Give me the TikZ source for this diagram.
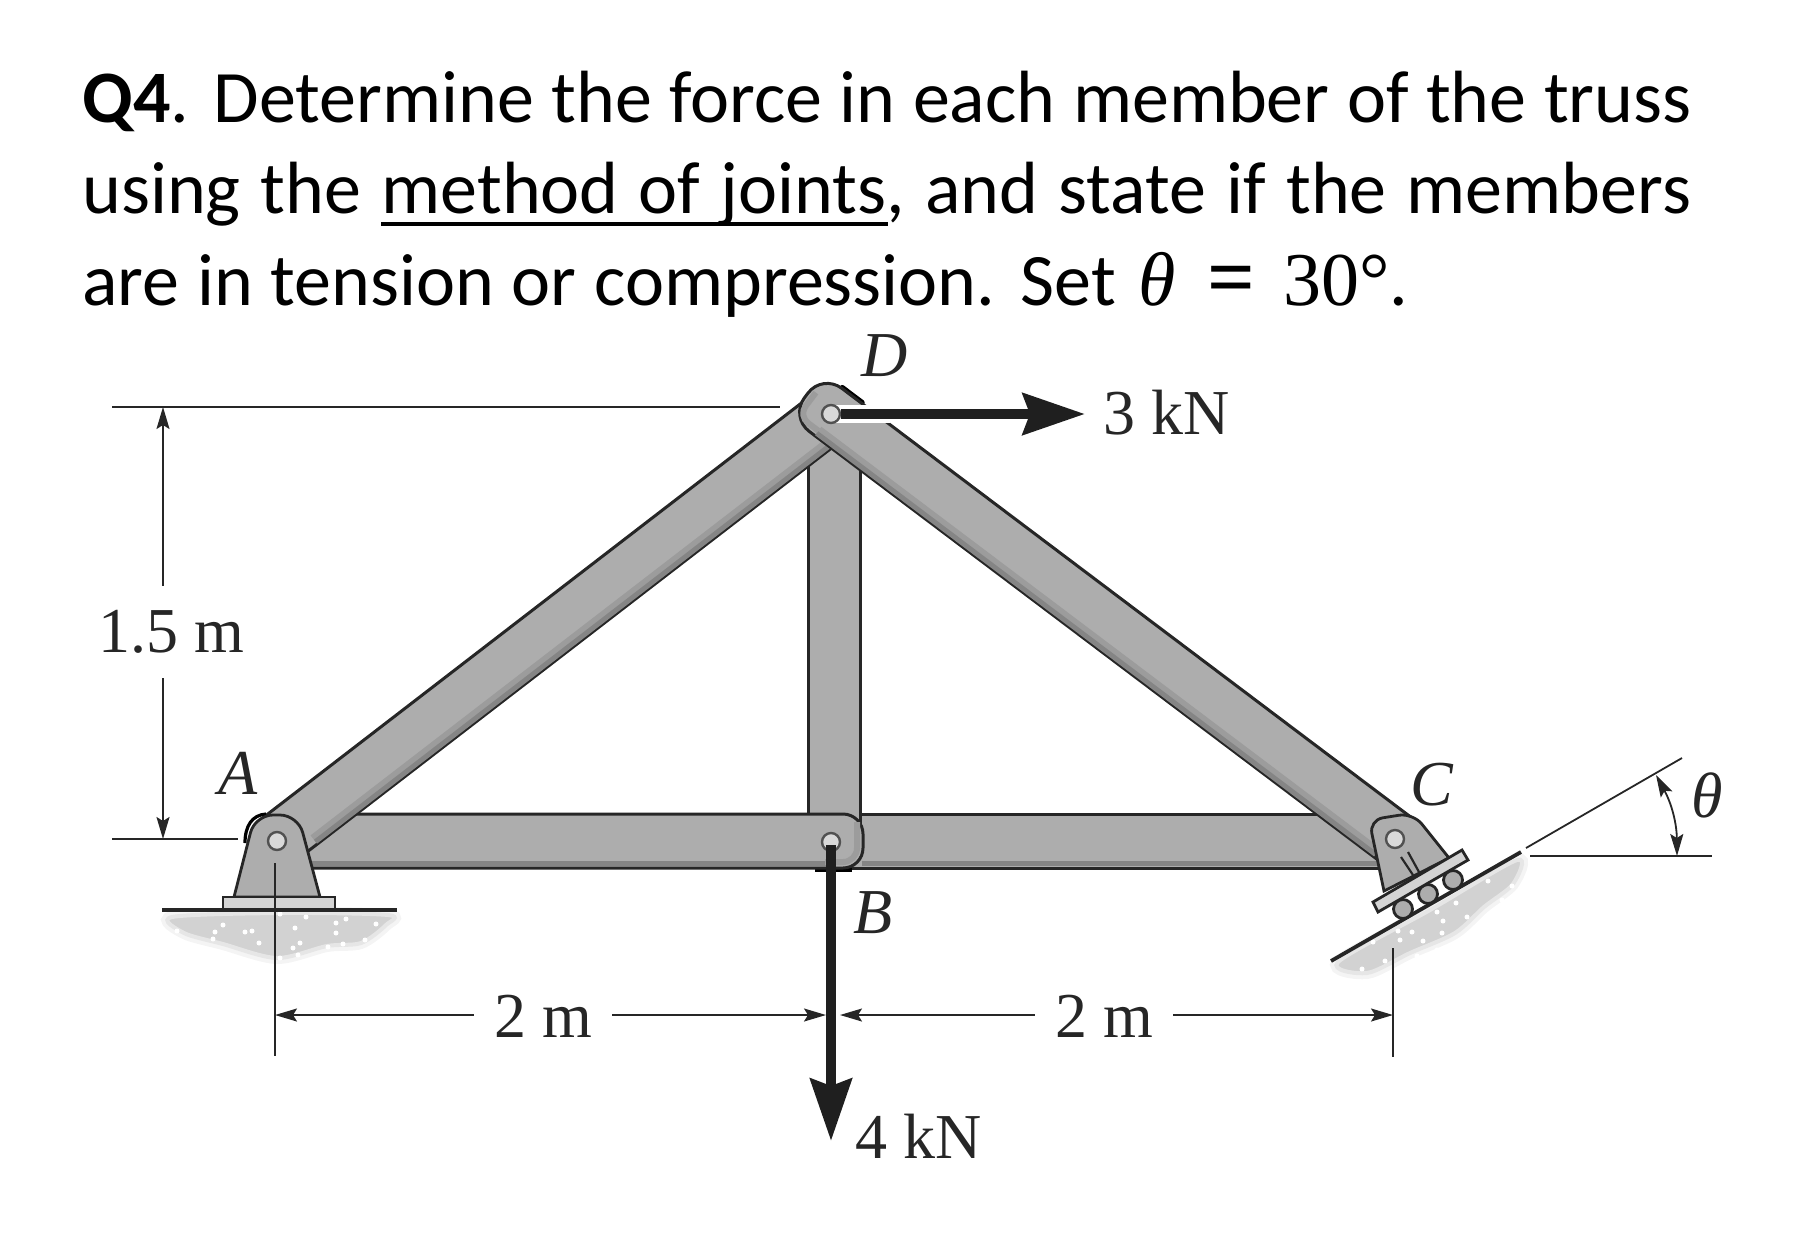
\documentclass[tikz,border=0pt]{standalone}
\usepackage{fontspec}
\setmainfont{Carlito}
\newfontfamily\lblfont{Liberation Serif}
\usepackage{tikz}
\usetikzlibrary{arrows.meta}
\definecolor{memgray}{HTML}{ADADAD}
\definecolor{memdark}{HTML}{858585}
\definecolor{memmid}{HTML}{9C9C9C}
\definecolor{soilgray}{HTML}{D2D2D2}
\definecolor{inkgray}{HTML}{262626}
\tikzstyle{member} = [draw=inkgray, line width=1.5pt, fill=memgray]
\tikzstyle{bracket} = [draw=inkgray, line width=1.4pt, fill=memgray]
\tikzstyle{pinhole} = [circle, draw=inkgray!80, line width=1.2pt, fill=black!15, inner sep=0pt, minimum size=9pt]
\tikzstyle{lbl} = [font=\lblfont\fontsize{32}{36}\selectfont, text=inkgray, inner sep=0pt]
\tikzstyle{lblit} = [lbl, font=\lblfont\itshape\fontsize{32}{36}\selectfont]
\tikzstyle{dimlbl} = [lbl, inner xsep=10pt, inner ysep=12pt]
\tikzstyle{question} = [font=\fontsize{37}{44}\selectfont, anchor=base west, inner sep=0pt]

\begin{document}
\begin{tikzpicture}[
x=0.5pt, y=-0.5pt,
dimline/.style = {draw=inkgray, line width=0.9pt},
dimtip/.style = {{Stealth[length=11pt,width=6.5pt,inset=2pt]}-},
force/.style = {draw=black!88, line width=5.3pt, -{Stealth[length=31pt,width=20.5pt,inset=3.5pt]}},
soil/.style = {fill=soilgray, draw=soilgray!55, line width=2pt},
soilhalo/.style = {draw=soilgray!25, line width=6pt},
ground/.style = {draw=inkgray, line width=1.9pt},
edgeA/.style = {draw=memdark, line width=2.5pt},
edgeB/.style = {draw=memmid, line width=3pt}
                        ]
\useasboundingbox (0,0) rectangle (1819,1259);

% joints
\coordinate (A) at (277,841);
\coordinate (B) at (831,842);
\coordinate (C) at (1395,839);
\coordinate (D) at (831,414);

% question
\node [question] (line1) at (82,122) {\makebox[804.5pt][s]{\textbf{Q4}. Determine the force in each member of the truss}};
\node [question] (line2) at (82,213) {\makebox[804.5pt][s]{using the method of joints, and state if the members}};
\node [question] (line3) at (82,305) {\makebox[516.8pt][s]{are in tension or compression. Set}\hspace{11pt}{\lblfont\itshape\fontsize{38}{44}\selectfont θ}\hspace{16pt}{\lblfont\bfseries\fontsize{42}{44}\selectfont =}\hspace{14pt}{\lblfont\fontsize{38}{44}\selectfont 30°}.};
\coordinate (ulstart) at (381,224);
\coordinate (ulend) at (888,224);
\draw [line width=2pt] (ulstart) -- (ulend);

% soil under the supports
\draw [soilhalo] plot [smooth cycle, tension=0.5] coordinates {(172,917) (184,933) (223,944) (277,958) (327,946) (361,943) (386,925) (388,915) (280,913)};
\fill [soil] plot [smooth cycle, tension=0.5] coordinates {(172,917) (184,933) (223,944) (277,958) (327,946) (361,943) (386,925) (388,915) (280,913)};
\draw [soilhalo] plot [smooth cycle, tension=0.5] coordinates {(1338,962) (1367,973) (1410,953) (1455,933) (1484,907) (1513,884) (1517,860) (1430,910)};
\fill [soil] plot [smooth cycle, tension=0.5] coordinates {(1338,962) (1367,973) (1410,953) (1455,933) (1484,907) (1513,884) (1517,860) (1430,910)};
\foreach \spx/\spy in {223/925,215/932,245/932,252/931,259/943,300/943,293/948,295/928,306/917,280/914,336/923,346/919,376/924,365/940,343/944,336/933,213/939,177/931,280/958,298/955,328/947,
1488/881,1512/886,1456/903,1437/912,1443/921,1467/917,1502/900,1398/931,1412/932,1400/940,1423/941,1442/933,1373/942,1362/969,1417/956,1437/950,1385/961}
    \fill [white] (\spx,\spy) circle (2.5);

% bottom chord right of B
\draw [member] (850,814) rectangle (1395,868);
\draw [edgeA] (862,863) -- (1394,863);
% vertical
\draw [member] (808,414) rectangle (860,842);
% bottom chord left of B, rounded end
\draw [black, line width=2.5pt] (815,869) -- (852,869);
\draw [member] (277,868) -- (277,814) [rounded corners=10pt] -- (863,814) -- (863,868) [sharp corners] -- cycle;
\draw [edgeA] (280,863) -- (830,863);
\draw [edgeB, rounded corners=7pt] (825,862) -- (857,862) -- (857,822);

% member AD
\begin{scope}[shift={(A)}, rotate=37.6]
\draw [member] (700,-27) [rounded corners=10pt] -- (-22,-27) -- (-22,27) [sharp corners] -- (700,27) -- cycle;
\draw [edgeB] (30,19) -- (690,19);
\draw [edgeA] (30,24) -- (690,24);
\end{scope}
% member DC
\begin{scope}[shift={(D)}, rotate=-37]
\draw [black, line width=2.5pt, line cap=round] (-7,-28) -- (18,-28);
\draw [member] (706,-27) [rounded corners=12pt] -- (-31,-27) -- (-31,27) [sharp corners] -- (706,27) -- cycle;
\draw [edgeB] (0,19) -- (700,19);
\draw [edgeA] (0,24) -- (700,24);
\draw [edgeB, rounded corners=6pt] (0,21) -- (-25,21) -- (-25,-8);
\end{scope}
\draw [white, line width=9pt] (D) -- (890,414);

% support A
\draw [black, line width=1.6pt] (245,843) .. controls (245,826) and (252,815) .. (266,814);
\draw [bracket] (234,897) [rounded corners=9pt] -- (255,815) -- (298,815) [sharp corners] -- (320,897) -- cycle;
\draw [bracket, fill=black!17] (223,897) rectangle (335,910);
\coordinate (gndAl) at (162,910);
\coordinate (gndAr) at (397,910);
\draw [ground] (gndAl) -- (gndAr);

% support C
\coordinate (gndCl) at (1331,961);
\coordinate (gndCr) at (1521,852);
\draw [ground] (gndCl) -- (gndCr);
\foreach \rx/\ry in {1403/909,1428/894,1453/880}
    \draw [bracket] (\rx,\ry) circle (9.5);
\draw [bracket] (1384,891) [rounded corners=7pt] -- (1369,820) -- (1413,813) [sharp corners] -- (1449,858) -- cycle;
\draw [bracket, fill=black!17] (1373,902) -- (1378,912) -- (1468,860) -- (1462,850) -- cycle;
\draw [draw=inkgray, line width=1.1pt] (1401,857) -- (1413,875) (1408,852) -- (1419,872);

% pins
\node [pinhole] (pinA) at (A) {};
\node [pinhole] (pinB) at (B) {};
\node [pinhole] (pinC) at (C) {};
\node [pinhole] (pinD) at (D) {};

% forces
\coordinate (tipD) at (1085,414);
\coordinate (tipB) at (831,1141);
\draw [force] (pinD) -- (tipD);
\draw [force] (pinB.center) ++(0,3) -- (tipB);

% labels
\node [lblit] (lblA) at (238,773) {A};
\node [lblit] (lblB) at (873,913) {B};
\node [lblit] (lblC) at (1432,785) {C};
\node [lblit] (lblD) at (885,356) {D};
\node [lbl] (lbl3kn) at (1167,413) {3 kN};
\node [lbl] (lbl4kn) at (919,1136) {4 kN};

% height
\coordinate (htop) at (112,407);
\coordinate (htopend) at (780,407);
\coordinate (hbot) at (112,839);
\coordinate (hbotend) at (238,839);
\draw [dimline] (htop) -- (htopend);
\draw [dimline] (hbot) -- (hbotend);
\node [dimlbl] (lblh) at (171,632) {1.5 m};
\draw [dimline, dimtip] (163,407) -- (lblh.north -| 163,407);
\draw [dimline, dimtip] (163,839) -- (lblh.south -| 163,839);

% spans
\coordinate (extAtop) at (275,863);
\coordinate (extAbot) at (275,1056);
\coordinate (extCtop) at (1393,948);
\coordinate (extCbot) at (1393,1057);
\draw [dimline] (extAtop) -- (extAbot);
\draw [dimline] (extCtop) -- (extCbot);
\node [dimlbl] (lbl2ma) at (543,1016) {2 m};
\node [dimlbl] (lbl2mb) at (1104,1016) {2 m};
\coordinate (spanA) at (275,1015);
\coordinate (spanBl) at (826,1015);
\coordinate (spanBr) at (840,1015);
\coordinate (spanC) at (1393,1015);
\draw [dimline, dimtip] (spanA) -- (lbl2ma.west |- spanA);
\draw [dimline, dimtip] (spanBl) -- (lbl2ma.east |- spanBl);
\draw [dimline, dimtip] (spanBr) -- (lbl2mb.west |- spanBr);
\draw [dimline, dimtip] (spanC) -- (lbl2mb.east |- spanC);

% slope and angle
\coordinate (slopeA) at (1526,848);
\coordinate (slopeB) at (1682,758);
\coordinate (horA) at (1530,856);
\coordinate (horB) at (1712,856);
\coordinate (angA) at (1656,775);
\coordinate (angB) at (1677,856);
\draw [dimline] (slopeA) -- (slopeB);
\draw [dimline] (horA) -- (horB);
\draw [dimline, {Stealth[length=11pt,width=6.5pt,inset=2pt]}-{Stealth[length=11pt,width=6.5pt,inset=2pt]}] (angA) to [bend left=14] (angB);
\node [lblit] (lbltheta) at (1707,795) {θ};
\end{tikzpicture}
\end{document}
